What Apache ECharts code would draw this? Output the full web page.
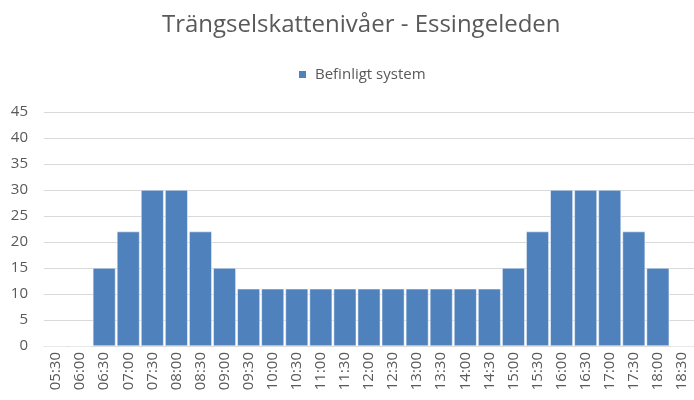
<!DOCTYPE html>
<html>
<head>
<meta charset="utf-8">
<script src="https://cdn.jsdelivr.net/npm/echarts@6/dist/echarts.min.js"></script>
<style>
    html, body { margin: 0; padding: 0; background: #fff; }
    #chart { width: 694px; height: 400px; }
</style>
</head>
<body>
<div id="chart"></div>
<script>
// tider (x-axel)
const times = ['05:30', '06:00', '06:30', '07:00', '07:30', '08:00', '08:30', '09:00', '09:30',
    '10:00', '10:30', '11:00', '11:30', '12:00', '12:30', '13:00', '13:30', '14:00', '14:30',
    '15:00', '15:30', '16:00', '16:30', '17:00', '17:30', '18:00', '18:30']
// skatt i kr per tidsintervall
const befintligt = [0, 0, 15, 22, 30, 30, 22, 15, 11,
    11, 11, 11, 11, 11, 11, 11, 11, 11, 11,
    15, 22, 30, 30, 30, 22, 15, 0]
const yTicks = [0, 5, 10, 15, 20, 25, 30, 35, 40, 45]

const chart = echarts.init(document.getElementById('chart'))
const font = '"Open Sans", "Liberation Sans", sans-serif'

const option = {
    animation: false,
    title: {
        text: 'Trängselskattenivåer - Essingeleden',
        left: 157,
        top: 8,
        textStyle: {
            fontFamily: font,
            fontSize: 24,
            fontWeight: 'normal',
            color: '#595959',
        },
    },
    legend: {
        top: 62,
        left: 292,
        itemWidth: 9,
        itemHeight: 9,
        itemGap: 6,
        icon: 'rect',
        textStyle: {
            fontFamily: font,
            fontSize: 15,
            color: '#595959',
            padding: [0, 0, 0, 3],
        },
    },
    grid: {
        left: 44,
        right: 0,
        top: 112,
        bottom: 54,
    },
    xAxis: {
        type: 'category',
        data: times,
        axisLine: { lineStyle: { color: '#d9d9d9' } },
        axisTick: { show: false },
        axisLabel: {
            rotate: 90,
            interval: 0,
            margin: 6,
            fontFamily: font,
            fontSize: 15,
            color: '#595959',
        },
    },
    yAxis: {
        type: 'value',
        min: yTicks[0],
        max: yTicks[yTicks.length - 1],
        interval: 5,
        axisLine: { show: false },
        axisTick: { show: false },
        splitLine: { lineStyle: { color: '#d9d9d9' } },
        axisLabel: {
            margin: 16,
            fontFamily: font,
            fontSize: 15,
            color: '#595959',
        },
    },
    series: [
        {
            name: 'Befinligt system',
            type: 'bar',
            data: befintligt,
            barCategoryGap: '6%',
            itemStyle: {
                color: '#4f81bd',
                borderColor: '#ffffff',
                borderWidth: 0.5,
            },
        },
    ],
}

chart.setOption(option)
</script>
</body>
</html>
